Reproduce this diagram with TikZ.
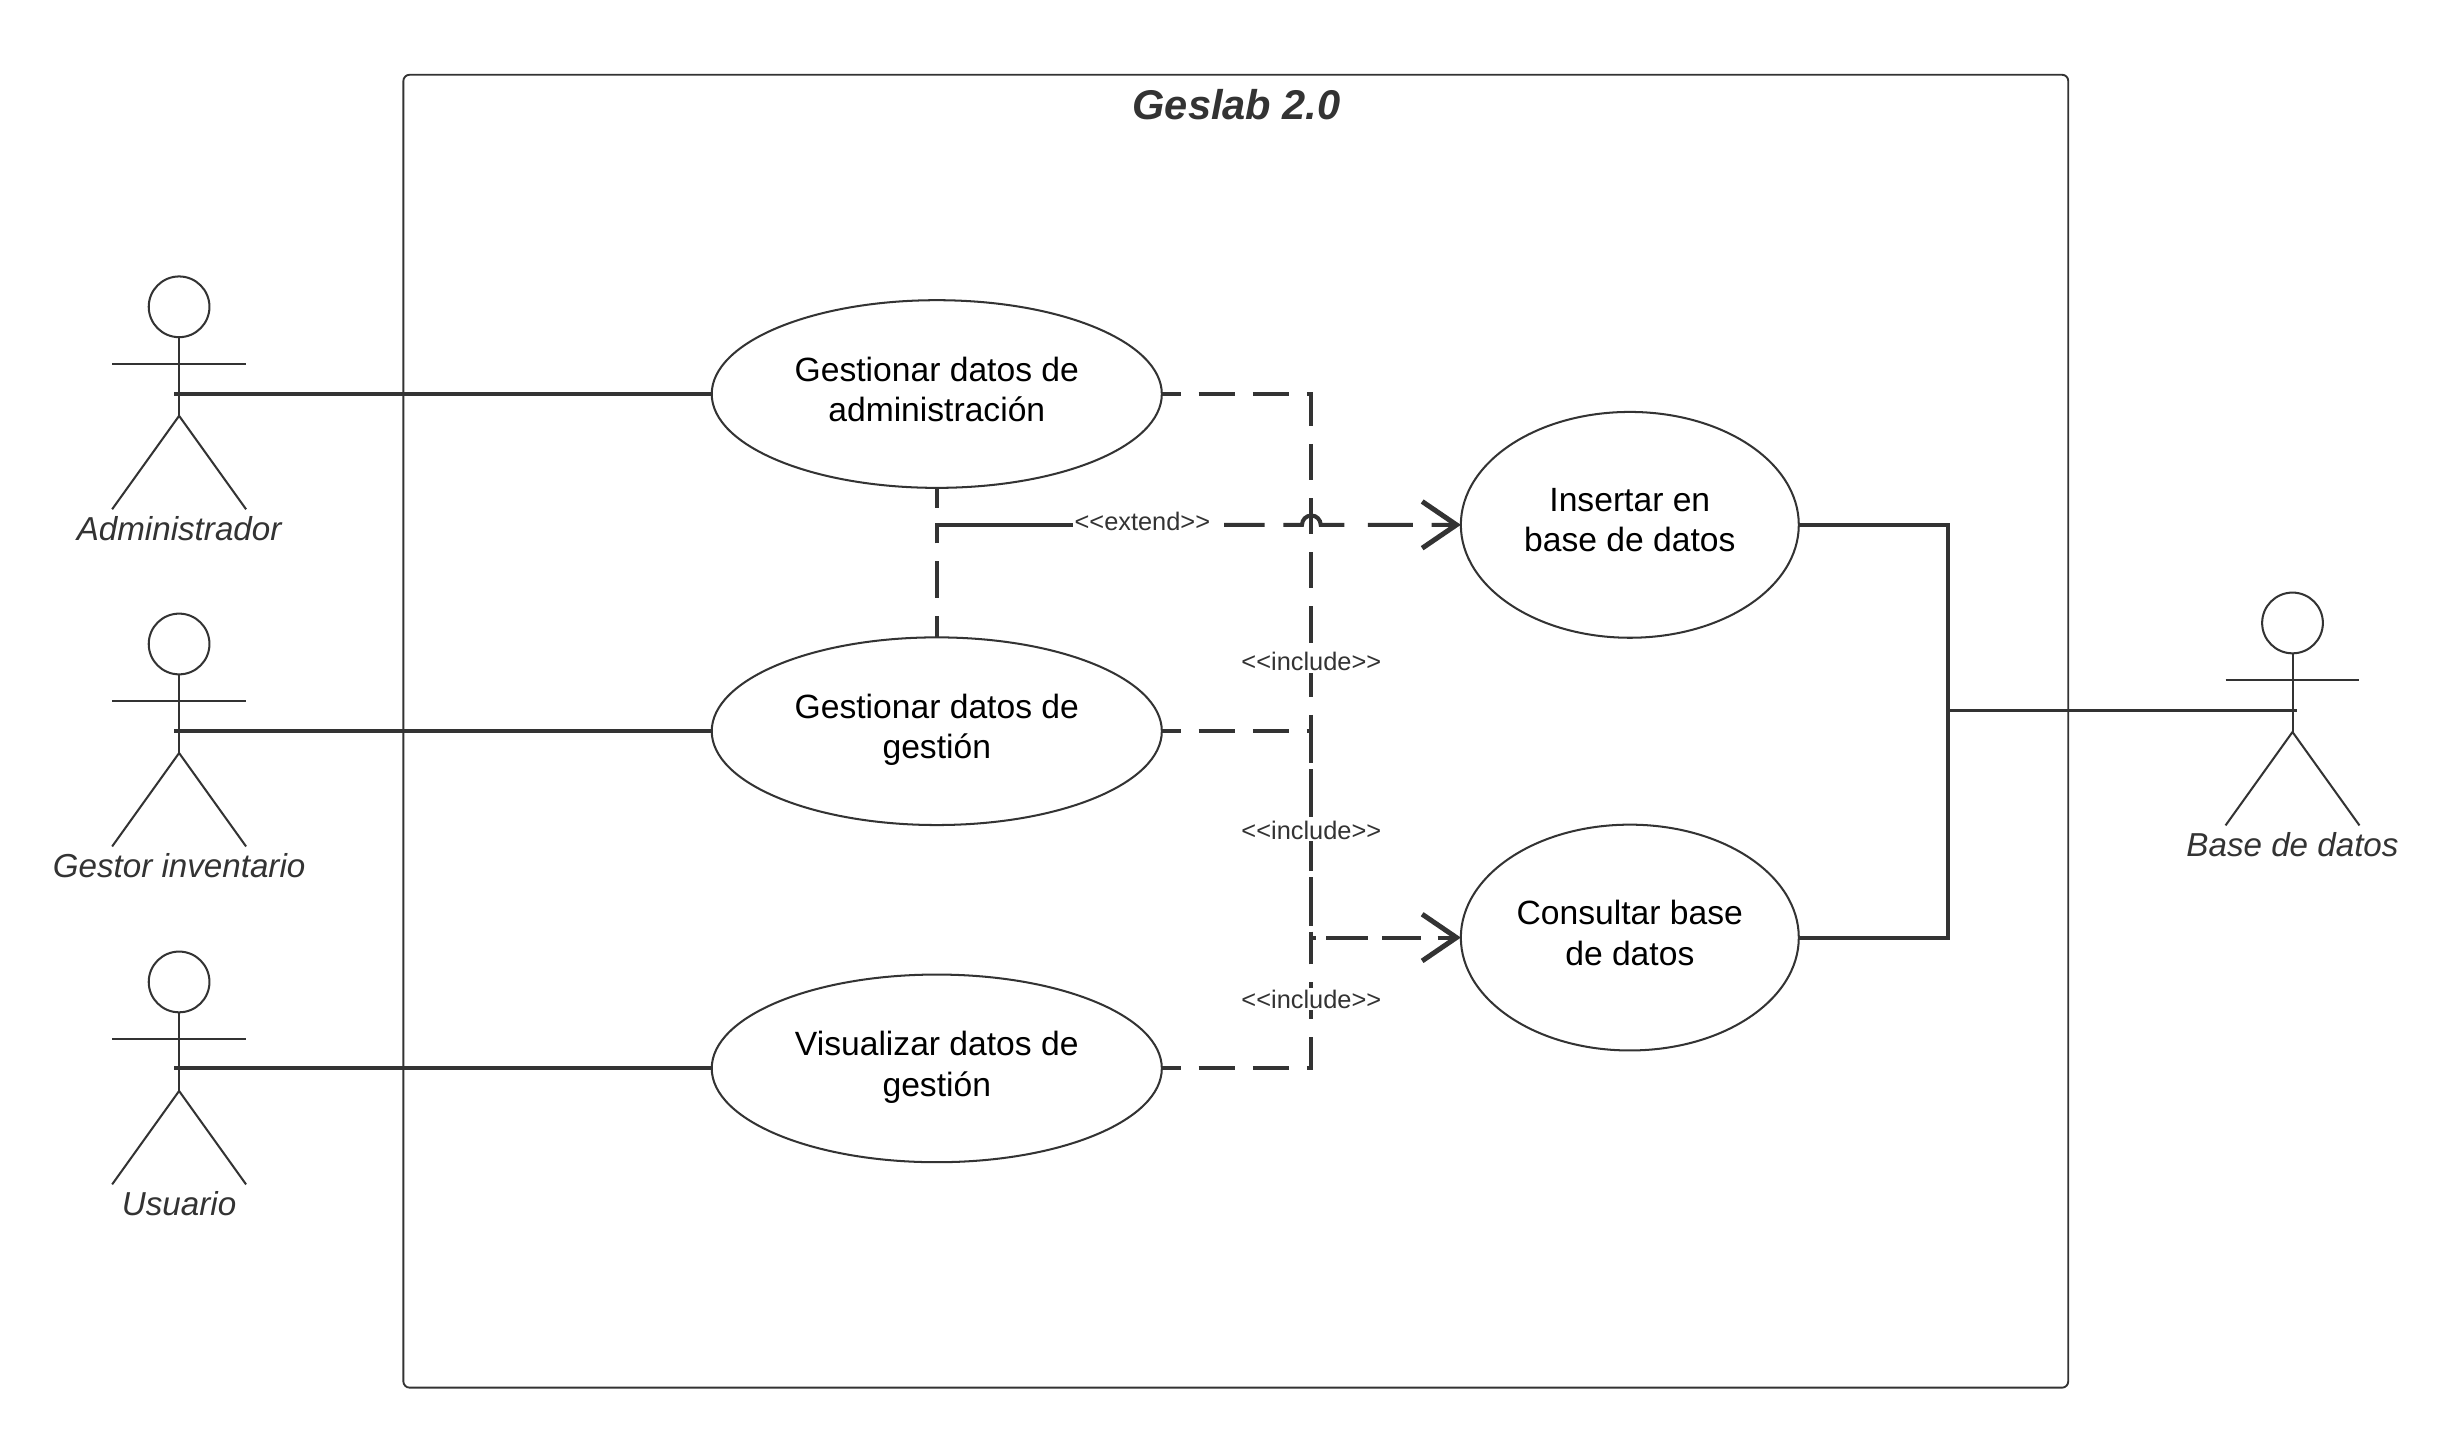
\documentclass[tikz,border=0pt]{standalone}
\usepackage{fontspec}
\setmainfont{Liberation Sans}
\usetikzlibrary{arrows.meta,shapes.geometric}
\definecolor{ink}{HTML}{333333}
\tikzset{
  x=1pt,y=-1pt,
  usecase/.style={draw=ink,line width=1.3pt,ellipse,inner sep=0pt,outer sep=0pt,fill=white,text=black,align=center,text depth=6pt,font=\fontsize{21.6}{26}\selectfont},
  wideuc/.style={usecase,minimum width=289pt,minimum height=120.5pt},
  dbuc/.style={usecase,minimum width=217pt,minimum height=145pt},
  assoc/.style={draw=ink,line width=2.6pt},
  assocthin/.style={draw=ink,line width=1.9pt},
  dep/.style={draw=ink,line width=2.6pt,dash pattern=on 23.2pt off 11.6pt,dash phase=11.2pt},
  tipped/.style={-{Straight Barb[length=22pt,width=30pt,line width=3.2pt]}},
  limb/.style={draw=ink,line width=1.3pt},
  actorname/.style={text=ink,font=\fontsize{21.3}{26}\selectfont\itshape,inner sep=0pt},
  stereo/.style={text=ink,fill=white,font=\fontsize{16.3}{18}\selectfont,inner sep=1pt},
}
\newcommand{\drawactor}[4]{%
  \begin{scope}[shift={(#2,#3)}]
    \node[draw=ink,line width=1.3pt,circle,minimum size=39pt,inner sep=0pt,outer sep=0pt] (#1head) at (0,0) {};
    \coordinate (#1hip) at (0,70);
    \coordinate (#1conn) at (-3,56);
    \draw[limb] (#1head.south) -- (#1hip);
    \draw[limb] (-43,36.5) -- (43,36.5);
    \draw[limb] (-43,130) -- (#1hip) -- (43,130);
    \node[actorname] (#1name) at (0,142.5) {#4};
  \end{scope}}
\begin{document}
\begin{tikzpicture}
\useasboundingbox (0,0) rectangle (1568,931);
\fill[white] (0,0) rectangle (1568,931);
\node[draw=ink,line width=1.2pt,rounded corners=4pt,minimum width=1069pt,minimum height=843pt,inner sep=0pt,outer sep=0pt] (sys) at (793.5,469.5) {};
\node[text=ink,font=\fontsize{26.7}{32}\selectfont\bfseries\itshape,inner sep=0pt] (title) at (794,67) {Geslab 2.0};

\drawactor{a}{115}{197}{Administrador}
\drawactor{b}{115}{413.5}{Gestor inventario}
\drawactor{c}{115}{630.5}{Usuario}
\drawactor{d}{1472}{400}{Base de datos}

\node[wideuc] (uca) at (601.5,253) {Gestionar datos de\\administración};
\node[wideuc] (ucb) at (601.5,469.5) {Gestionar datos de\\gestión};
\node[wideuc] (ucc) at (601.5,686) {Visualizar datos de\\gestión};
\node[dbuc] (ins) at (1046.5,337) {Insertar en\\base de datos};
\node[dbuc] (con) at (1046.5,602) {Consultar base\\de datos};

\coordinate (dconn) at (1475,456);
\coordinate (bus) at (1251,456);
\coordinate (hop) at (836,337);
\coordinate (merge) at (842,602);
\coordinate (lab) at (733.5,337);
\coordinate (extr) at (786,337);

\draw[assoc] (aconn |- uca.west) -- (uca.west);
\draw[assoc] (bconn |- ucb.west) -- (ucb.west);
\draw[assoc] (cconn |- ucc.west) -- (ucc.west);
\draw[assoc] (ins.east) -| (bus);
\draw[assoc] (con.east) -| (bus);
\draw[assocthin] (bus) -- (dconn);

\draw[dep] (uca.east) -| (merge);
\draw[dep] (ucb.east) -| (merge);
\draw[dep] (ucc.east) -| (merge);
\draw[dep,tipped,dash pattern=on 3pt off 6.5pt on 26.7pt off 9.3pt on 25pt off 10.6pt on 40pt,dash phase=0pt] (merge) -- (con.west);
\draw[dep,dash phase=10.2pt] (uca.south) |- (lab);
\draw[dep,dash phase=9.2pt] (ucb.north) |- (lab);
\draw[dep,tipped,dash pattern=on 26pt off 12pt on 46pt off 15pt on 29pt off 12pt on 40pt,dash phase=0pt] (extr) -- (hop) arc[start angle=180,end angle=0,radius=6pt] -- (ins.west);

\node[stereo] (l0) at (733.5,335) {<{}<extend>{}>};
\node[stereo] (l1) at (842,425) {<{}<include>{}>};
\node[stereo] (l2) at (842,533) {<{}<include>{}>};
\node[stereo] (l3) at (842,641.5) {<{}<include>{}>};
\end{tikzpicture}
\end{document}
